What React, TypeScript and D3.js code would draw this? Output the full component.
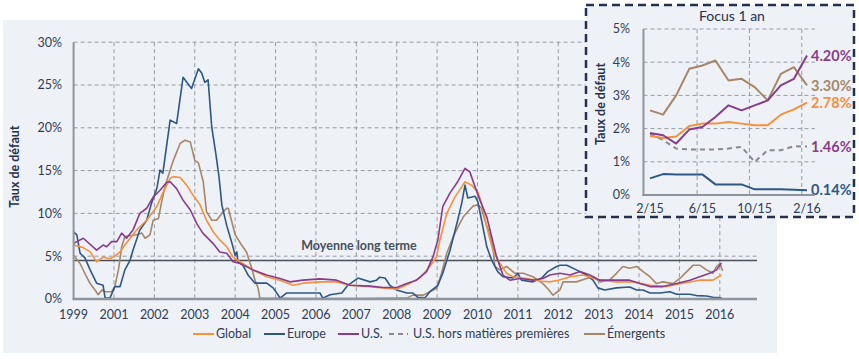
import React from 'react';
import * as d3 from 'd3';

const W = 859;
const H = 359;

// ---- main chart data (decimal years, default rate in %) ----
const yearTicks = [2000, 2001, 2002, 2003, 2004, 2005, 2006, 2007, 2008, 2009, 2010, 2011, 2012, 2013, 2014, 2015, 2016];
const yearLabels = ['1999', '2001', '2002', '2003', '2004', '2005', '2006', '2007', '2008', '2009', '2010', '2011', '2012', '2013', '2014', '2015', '2016'];
const pctTicks = [0, 5, 10, 15, 20, 25, 30];
const longTermAvg = 4.5;

const globalSeries: [number, number][] = [
  [2000.0, 6.3], [2000.24, 6.0], [2000.41, 5.5], [2000.57, 4.35], [2000.73, 4.9], [2000.9, 4.7], [2001.02, 5.0],
  [2001.15, 5.5], [2001.27, 6.3], [2001.4, 7.1], [2001.56, 8.05], [2001.81, 9.2], [2002.06, 10.8], [2002.21, 12.4],
  [2002.39, 14.1], [2002.47, 14.3], [2002.64, 14.2], [2002.8, 13.3], [2002.96, 12.1], [2003.13, 11.0], [2003.29, 9.2],
  [2003.45, 7.9], [2003.62, 6.9], [2003.79, 6.1], [2003.95, 4.9], [2004.12, 4.35], [2004.44, 3.4], [2004.78, 2.6],
  [2005.11, 2.2], [2005.43, 1.6], [2005.68, 1.85], [2006.1, 2.0], [2006.51, 2.0], [2006.84, 1.6], [2007.34, 1.45],
  [2007.66, 1.3], [2008.0, 1.15], [2008.33, 1.85], [2008.57, 2.45], [2008.82, 3.8], [2008.99, 5.0], [2009.07, 6.9],
  [2009.24, 10.0], [2009.44, 11.9], [2009.61, 13.1], [2009.69, 13.7], [2009.85, 13.3], [2010.01, 12.5], [2010.1, 11.2],
  [2010.23, 8.4], [2010.38, 5.7], [2010.55, 4.2], [2010.72, 3.0], [2010.88, 2.6], [2011.22, 2.4], [2011.54, 2.1],
  [2011.79, 2.0], [2012.0, 2.2], [2012.3, 2.6], [2012.61, 2.8], [2013.03, 2.2], [2013.44, 2.0], [2013.85, 2.0],
  [2014.27, 1.6], [2014.68, 1.45], [2015.08, 1.85], [2015.5, 2.2], [2015.83, 2.2], [2016.04, 2.8],
];

const europeSeries: [number, number][] = [
  [2000.0, 7.85], [2000.08, 7.5], [2000.16, 5.35], [2000.28, 4.8], [2000.41, 3.4], [2000.57, 1.85], [2000.73, 1.6],
  [2000.78, 0.1], [2000.9, 0.1], [2001.02, 1.45], [2001.15, 1.45], [2001.27, 3.4], [2001.4, 4.55], [2001.47, 5.7],
  [2001.64, 8.05], [2001.81, 9.2], [2001.93, 11.2], [2002.06, 12.9], [2002.14, 15.05], [2002.21, 14.7], [2002.39, 20.9],
  [2002.55, 20.5], [2002.71, 25.9], [2002.92, 24.6], [2003.09, 26.9], [2003.17, 26.4], [2003.25, 25.3], [2003.33, 25.6],
  [2003.42, 20.1], [2003.52, 17.0], [2003.6, 14.3], [2003.67, 11.0], [2003.79, 8.6], [2003.91, 6.7], [2004.0, 5.1],
  [2004.04, 5.5], [2004.07, 4.35], [2004.19, 3.95], [2004.32, 2.8], [2004.49, 1.85], [2004.78, 1.85], [2004.94, 1.3],
  [2005.06, 0.5], [2005.11, 0.1], [2005.27, 0.7], [2006.1, 0.7], [2006.17, 0.1], [2006.35, 0.5], [2006.64, 0.7],
  [2006.79, 1.6], [2007.04, 2.45], [2007.34, 2.0], [2007.5, 2.2], [2007.58, 2.55], [2007.71, 2.45], [2007.83, 1.6],
  [2008.0, 1.05], [2008.25, 0.7], [2008.4, 0.7], [2008.52, 0.2], [2008.7, 0.15], [2008.82, 0.85], [2009.02, 1.6],
  [2009.14, 3.0], [2009.32, 5.7], [2009.51, 9.2], [2009.61, 11.2], [2009.69, 13.3], [2009.76, 11.8], [2009.94, 12.0],
  [2010.01, 11.35], [2010.1, 9.2], [2010.23, 6.1], [2010.35, 4.55], [2010.5, 3.2], [2010.63, 2.6], [2010.88, 2.45],
  [2011.0, 3.0], [2011.09, 2.2], [2011.37, 2.0], [2011.59, 2.45], [2011.74, 3.2], [2011.96, 3.8], [2012.04, 3.95],
  [2012.21, 3.95], [2012.45, 3.4], [2012.7, 2.8], [2012.86, 2.2], [2012.98, 1.3], [2013.15, 1.05], [2013.44, 1.3],
  [2013.77, 1.4], [2013.94, 1.05], [2014.1, 1.05], [2014.27, 0.7], [2014.52, 0.7], [2014.76, 0.85], [2014.93, 0.55],
  [2015.26, 0.55], [2015.42, 0.4], [2015.67, 0.35], [2015.83, 0.2], [2016.04, 0.14],
];

const usSeries: [number, number][] = [
  [2000.0, 6.5], [2000.24, 7.1], [2000.57, 5.7], [2000.73, 6.3], [2000.82, 6.1], [2000.94, 6.7], [2001.07, 6.7],
  [2001.19, 7.7], [2001.31, 7.1], [2001.47, 8.05], [2001.64, 10.0], [2001.81, 10.6], [2001.97, 11.9], [2002.14, 12.7],
  [2002.3, 13.6], [2002.39, 13.7], [2002.55, 12.9], [2002.71, 11.55], [2002.89, 10.4], [2003.05, 8.8], [2003.2, 7.7],
  [2003.45, 6.5], [2003.62, 5.5], [2003.79, 5.35], [2003.95, 4.35], [2004.12, 4.15], [2004.44, 3.4], [2004.78, 2.8],
  [2005.11, 2.4], [2005.36, 2.0], [2005.68, 2.2], [2006.1, 2.35], [2006.51, 2.2], [2006.84, 1.6], [2007.34, 1.5],
  [2007.66, 1.35], [2008.0, 1.35], [2008.25, 1.8], [2008.49, 2.2], [2008.74, 3.2], [2008.9, 4.95], [2009.02, 6.9],
  [2009.14, 10.8], [2009.32, 12.4], [2009.51, 13.7], [2009.69, 15.25], [2009.81, 14.85], [2009.94, 13.1],
  [2010.06, 11.55], [2010.23, 9.6], [2010.35, 7.3], [2010.47, 4.95], [2010.63, 2.8], [2010.8, 2.2], [2011.05, 2.4],
  [2011.37, 2.2], [2011.62, 2.4], [2011.79, 2.8], [2012.04, 3.0], [2012.29, 2.8], [2012.54, 3.2], [2012.78, 2.8],
  [2013.03, 2.2], [2013.44, 2.2], [2013.77, 2.2], [2014.02, 1.8], [2014.27, 1.45], [2014.59, 1.45], [2014.93, 1.8],
  [2015.26, 2.2], [2015.5, 2.6], [2015.75, 3.0], [2015.92, 3.4], [2016.04, 4.2],
];

const emergingSeries: [number, number][] = [
  [2000.0, 5.1], [2000.16, 4.15], [2000.32, 2.6], [2000.41, 1.8], [2000.53, 1.05], [2000.61, 0.5], [2000.7, 1.05],
  [2000.78, 0.85], [2000.94, 0.85], [2001.02, 1.45], [2001.11, 3.4], [2001.19, 6.1], [2001.27, 7.3], [2001.56, 7.5],
  [2001.69, 7.7], [2001.77, 7.1], [2001.89, 7.5], [2001.97, 9.2], [2002.1, 9.4], [2002.18, 11.35], [2002.26, 13.1],
  [2002.39, 15.05], [2002.47, 16.2], [2002.64, 18.2], [2002.76, 18.55], [2002.89, 18.35], [2003.0, 16.2],
  [2003.09, 15.9], [2003.21, 13.7], [2003.29, 10.2], [2003.42, 9.2], [2003.54, 9.2], [2003.67, 10.0], [2003.79, 10.6],
  [2003.83, 10.6], [2004.0, 7.5], [2004.16, 6.3], [2004.28, 5.5], [2004.41, 3.6], [2004.49, 2.2], [2004.57, 1.25],
  [2004.61, 0.1], [2005.5, 0.05], [2007.0, 0.05], [2008.25, 0.1], [2008.4, 0.45], [2008.66, 0.45], [2008.82, 0.85],
  [2008.99, 1.25], [2009.11, 3.0], [2009.24, 5.35], [2009.4, 7.3], [2009.56, 8.8], [2009.65, 9.6], [2009.76, 10.2],
  [2009.89, 10.85], [2010.01, 11.0], [2010.1, 10.6], [2010.18, 9.2], [2010.27, 8.05], [2010.38, 6.1], [2010.43, 3.8],
  [2010.55, 3.4], [2010.72, 3.8], [2010.93, 3.0], [2011.13, 3.0], [2011.37, 2.6], [2011.62, 1.8], [2011.74, 1.2],
  [2011.87, 0.45], [2012.04, 1.05], [2012.12, 2.0], [2012.45, 2.0], [2012.7, 2.4], [2012.86, 2.6], [2013.03, 2.0],
  [2013.27, 2.2], [2013.44, 3.0], [2013.6, 3.8], [2013.77, 3.6], [2013.94, 3.8], [2014.1, 3.2], [2014.27, 2.6],
  [2014.43, 1.8], [2014.59, 2.0], [2014.84, 1.8], [2015.01, 2.4], [2015.18, 3.2], [2015.34, 3.95], [2015.5, 3.95],
  [2015.67, 3.4], [2015.83, 3.0], [2015.92, 3.8], [2016.0, 4.15], [2016.07, 3.3],
];

// ---- inset "Focus 1 an" (monthly, 2/15 -> 2/16) ----
const focusMonths = ['2/15', '3/15', '4/15', '5/15', '6/15', '7/15', '8/15', '9/15', '10/15', '11/15', '12/15', '1/16', '2/16'];
const focusTickLabels = ['2/15', '6/15', '10/15', '2/16'];
const focusPctTicks = [0, 1, 2, 3, 4, 5];
const focusGlobal = [1.78, 1.72, 1.76, 2.08, 2.15, 2.15, 2.2, 2.15, 2.1, 2.1, 2.42, 2.58, 2.78];
const focusEurope = [0.5, 0.63, 0.62, 0.62, 0.62, 0.32, 0.32, 0.32, 0.17, 0.17, 0.17, 0.16, 0.14];
const focusUS = [1.87, 1.8, 1.55, 1.97, 2.05, 2.35, 2.7, 2.55, 2.7, 2.85, 3.3, 3.5, 4.2];
const focusUSexComm = [1.85, 1.65, 1.4, 1.37, 1.37, 1.37, 1.4, 1.45, 1.0, 1.35, 1.35, 1.47, 1.46];
const focusEmerging = [2.55, 2.42, 3.0, 3.8, 3.9, 4.05, 3.45, 3.5, 3.25, 2.85, 3.65, 3.85, 3.3];

const C = {
  global: '#f5903c',
  europe: '#2f5786',
  us: '#8a3c8c',
  exComm: '#8d8494',
  emerging: '#a6866b',
  panel: '#eef2f6',
  grid: '#8c929b',
  axis: '#8f959c',
  text: '#303c58',
  navy: '#25304f',
};

const legendItems = [
  { label: 'Global', color: C.global, dash: '' },
  { label: 'Europe', color: C.europe, dash: '' },
  { label: 'U.S.', color: C.us, dash: '' },
  { label: 'U.S. hors matières premières', color: C.exComm, dash: '5,4' },
  { label: 'Émergents', color: C.emerging, dash: '' },
];
const legendX = [193, 264, 338, 389, 584];

const FONT = "Lato, 'Open Sans', 'DejaVu Sans', sans-serif";

export default function App() {
  // main scales
  const x = d3.scaleLinear().domain([2000, 2016.92]).range([73.6, 757]);
  const y = d3.scaleLinear().domain([0, 30]).range([299, 42.2]);
  const line = d3.line<[number, number]>().x(d => x(d[0])).y(d => y(d[1]));

  // inset scales
  const fx = d3.scaleLinear().domain([0, 12]).range([650, 807]);
  const fy = d3.scaleLinear().domain([0, 5]).range([195, 29]);
  const fline = d3.line<number>().x((_, i) => fx(i)).y(d => fy(d));
  const fxLeft = fx(-0.5);
  const fxRight = fx(12.6);
  const focusTickIdx = focusTickLabels.map(l => focusMonths.indexOf(l));

  const mainSeries = [
    { data: emergingSeries, color: C.emerging },
    { data: europeSeries, color: C.europe },
    { data: globalSeries, color: C.global },
    { data: usSeries, color: C.us },
  ];

  const focusSeries = [
    { data: focusEurope, color: C.europe, labelColor: C.europe, dash: '' },
    { data: focusUSexComm, color: C.exComm, labelColor: C.us, dash: '5,4' },
    { data: focusGlobal, color: C.global, labelColor: C.global, dash: '' },
    { data: focusEmerging, color: C.emerging, labelColor: C.emerging, dash: '' },
    { data: focusUS, color: C.us, labelColor: C.us, dash: '' },
  ];

  return (
    <svg width={W} height={H} style={{ position: 'absolute', left: 0, top: 0, fontFamily: FONT }}>
      <rect x={0} y={0} width={W} height={H} fill="#ffffff" />
      {/* main panel */}
      <rect x={3} y={20} width={774} height={333} fill={C.panel} />

      {/* grid */}
      {pctTicks.filter(t => t > 0).map(t => (
        <line key={'hg' + t} x1={x(2000)} x2={x.range()[1]} y1={y(t)} y2={y(t)}
          stroke={C.grid} strokeWidth={0.9} strokeDasharray="4,3" />
      ))}
      {yearTicks.filter(t => t > 2000).map(t => (
        <line key={'vg' + t} x1={x(t)} x2={x(t)} y1={y(30)} y2={y(0)}
          stroke={C.grid} strokeWidth={0.9} strokeDasharray="4,3" />
      ))}

      {/* long-term average */}
      <line x1={x(2000)} x2={x.range()[1]} y1={y(longTermAvg)} y2={y(longTermAvg)} stroke="#4b5058" strokeWidth={1.6} />
      <text x={359} y={y(longTermAvg) - 10} textAnchor="middle" fontSize={12.5} fontWeight={700} fill="#47505e">
        Moyenne long terme
      </text>

      {/* series */}
      {mainSeries.map((s, i) => (
        <path key={'s' + i} d={line(s.data) || ''} fill="none" stroke={s.color} strokeWidth={1.6} strokeLinejoin="round" />
      ))}

      {/* axes */}
      <line x1={x(2000)} x2={x(2000)} y1={y(30)} y2={y(0) + 1} stroke={C.axis} strokeWidth={2} />
      <line x1={x(2000) - 1} x2={x.range()[1]} y1={y(0)} y2={y(0)} stroke={C.axis} strokeWidth={2.5} />
      {pctTicks.map(t => (
        <text key={'yl' + t} x={62} y={y(t)} dy="0.35em" textAnchor="end" fontSize={12.5} fill={C.text}>{t}%</text>
      ))}
      {yearTicks.map((t, i) => (
        <text key={'xl' + t} x={x(t)} y={315} dy="0.35em" textAnchor="middle" fontSize={12.5} fill={C.text}>{yearLabels[i]}</text>
      ))}
      <text transform={`translate(15,${(y(0) + y(30)) / 2 - 4}) rotate(-90)`} textAnchor="middle" dy="0.35em"
        fontSize={12.5} fontWeight={700} fill={C.navy}>Taux de défaut</text>

      {/* legend */}
      {legendItems.map((it, i) => (
        <g key={'lg' + i} transform={`translate(${legendX[i]},334)`}>
          <line x1={0} x2={it.dash ? 19 : 21} y1={0} y2={0} stroke={it.color} strokeWidth={2} strokeDasharray={it.dash} />
          <text x={it.dash ? 24 : 23} y={0} dy="0.35em" fontSize={12.5} fill={C.text}>{it.label}</text>
        </g>
      ))}

      {/* inset */}
      <rect x={586} y={5} width={268} height={212} fill={C.panel} stroke={C.navy} strokeWidth={2.5} strokeDasharray="8,5" />
      <text x={732} y={16} dy="0.35em" textAnchor="middle" fontSize={14} fill={C.navy}>Focus 1 an</text>
      {focusPctTicks.filter(t => t > 0).map(t => (
        <line key={'fhg' + t} x1={fxLeft} x2={fxRight} y1={fy(t)} y2={fy(t)}
          stroke={C.grid} strokeWidth={0.9} strokeDasharray="4,3" />
      ))}
      {focusTickIdx.filter(i => i > 0).map(i => (
        <line key={'fvg' + i} x1={fx(i - 0.4)} x2={fx(i - 0.4)} y1={fy(5)} y2={fy(0)}
          stroke={C.grid} strokeWidth={0.9} strokeDasharray="4,3" />
      ))}
      {focusSeries.map((s, k) => (
        <path key={'fs' + k} d={fline(s.data) || ''} fill="none" stroke={s.color} strokeWidth={2}
          strokeDasharray={s.dash} strokeLinejoin="round" />
      ))}
      {focusSeries.map((s, k) => (
        <text key={'fl' + k} x={fx(12) + 4} y={fy(s.data[s.data.length - 1])} dy="0.35em" fontSize={14.5}
          fontWeight={700} fill={s.labelColor}>{d3.format('.2f')(s.data[s.data.length - 1])}%</text>
      ))}
      <line x1={fxLeft} x2={fxLeft} y1={fy(5)} y2={fy(0) + 1} stroke={C.axis} strokeWidth={2} />
      <line x1={fxLeft - 1} x2={fxRight} y1={fy(0)} y2={fy(0)} stroke={C.axis} strokeWidth={2} />
      {focusPctTicks.map(t => (
        <text key={'fyl' + t} x={630} y={fy(t)} dy="0.35em" textAnchor="end" fontSize={12.5} fill={C.text}>{t}%</text>
      ))}
      {focusTickIdx.map((i, k) => (
        <text key={'fxl' + k} x={fx(i)} y={209} dy="0.35em" textAnchor="middle" fontSize={12.5} fill={C.text}>{focusTickLabels[k]}</text>
      ))}
      <text transform={`translate(601,${(fy(0) + fy(5)) / 2 - 8}) rotate(-90)`} textAnchor="middle" dy="0.35em"
        fontSize={12.5} fontWeight={700} fill={C.navy}>Taux de défaut</text>
    </svg>
  );
}
